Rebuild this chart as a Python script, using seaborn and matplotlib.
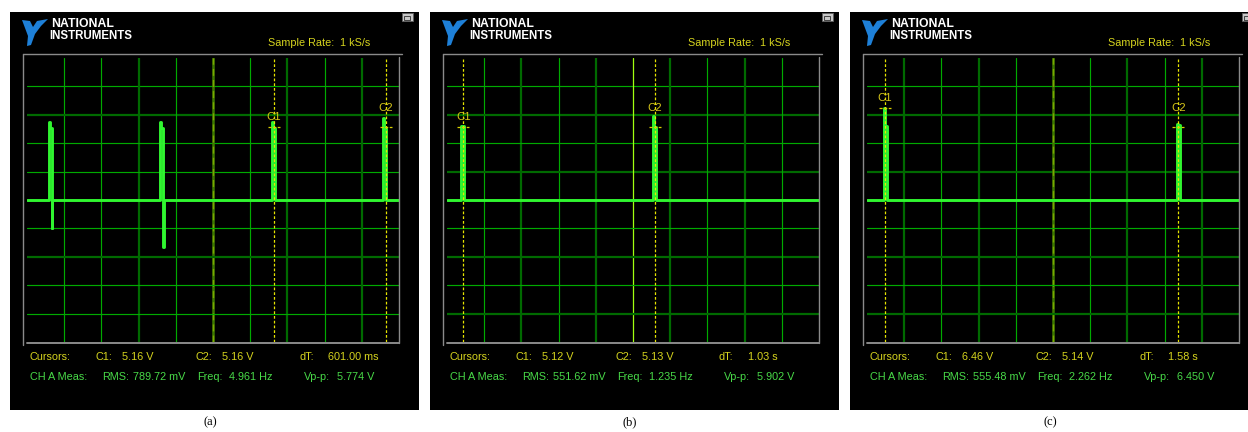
import pandas as pd
import matplotlib
matplotlib.use("Agg")
import matplotlib.pyplot as plt
from matplotlib.patches import Rectangle, Polygon
from matplotlib.lines import Line2D
import seaborn as sns

sns.set_theme(style="white")
plt.rcParams["font.family"] = ["Liberation Sans", "DejaVu Sans"]

W, H = 1248, 432

# ---- data -------------------------------------------------------------
panel_labels = ["(a)", "(b)", "(c)"]
sample_rate = "1 kS/s"

# pulse trains: onset time (s), peak level (V), hold level (V), undershoot (V)
a_onset = [0.118, 0.715, 1.317, 1.914]
a_peak = [5.5, 5.5, 5.5, 5.8]
a_hold = [5.1, 5.1, 5.1, 5.1]
a_under = [-2.0, -3.3, 0.0, 0.0]

b_onset = [0.075, 1.107]
b_peak = [5.2, 5.93]
b_hold = [5.2, 5.13]
b_under = [0.0, 0.0]

c_onset = [0.091, 1.667]
c_peak = [6.46, 5.33]
c_hold = [5.2, 5.3]
c_under = [0.0, 0.0]

# cursor positions (s) and levels (V)
a_cursor_t = [1.328, 1.929]
a_cursor_v = [5.16, 5.16]
b_cursor_t = [0.088, 1.118]
b_cursor_v = [5.12, 5.13]
c_cursor_t = [0.097, 1.674]
c_cursor_v = [6.46, 5.14]

# readouts: C1, C2, dT, RMS, Freq, Vp-p
a_readout = ["5.16 V", "5.16 V", "601.00 ms", "789.72 mV", "4.961 Hz", "5.774 V"]
b_readout = ["5.12 V", "5.13 V", "1.03 s", "551.62 mV", "1.235 Hz", "5.902 V"]
c_readout = ["6.46 V", "5.14 V", "1.58 s", "555.48 mV", "2.262 Hz", "6.450 V"]

# ---- screen settings ----------------------------------------------------
T_SPAN = 2.0        # 10 div x 200 ms
V_SPAN = 10.0       # +/- 5 div x 2 V
PEAK_S = 0.007
PULSE_S = 0.016
UNDER_S = 0.003

TRACE = "#30f530"
GRID = "#00aa00"
GRID_DARK = "#006a00"
YELLOW = "#e6e400"
TXT_Y = "#d6d41e"
TXT_G = "#48da48"
FRAME = "#8a8a8a"

panels = [
    dict(left=10, onset=a_onset, peak=a_peak, hold=a_hold, under=a_under,
         ct=a_cursor_t, cv=a_cursor_v, read=a_readout,
         dark_v=[3, 7, 9], dark_h=[2, 7], center="dash"),
    dict(left=430, onset=b_onset, peak=b_peak, hold=b_hold, under=b_under,
         ct=b_cursor_t, cv=b_cursor_v, read=b_readout,
         dark_v=[2, 4, 6, 8], dark_h=[2, 4, 7, 9], center="bright"),
    dict(left=850, onset=c_onset, peak=c_peak, hold=c_hold, under=c_under,
         ct=c_cursor_t, cv=c_cursor_v, read=c_readout,
         dark_v=[1, 3, 7, 9], dark_h=[2, 4, 7, 9], center="dash"),
]


def fx(x):
    return x / W


def fy(y):
    return 1 - y / H


def waveform(onset, peak, hold, under):
    t, v = [0.0], [0.0]
    for t0, p, h, u in zip(onset, peak, hold, under):
        t1, t2 = t0 + PEAK_S, t0 + PULSE_S
        t3 = t2 + UNDER_S
        t += [t0, t0, t1, t1, t2, t2, t3, t3]
        v += [0.0, p, p, h, h, u, u, 0.0]
    t.append(T_SPAN)
    v.append(0.0)
    return pd.DataFrame({"t": t, "v": v})


fig = plt.figure(figsize=(W / 100, H / 100), dpi=100, facecolor="white")


def ftext(x, y, s, color, size=7.8, **kw):
    fig.text(fx(x), fy(y), s, color=color, fontsize=size, va="center",
             ha="left", **kw)


def fline(xs, ys, color, lw=1.0):
    fig.add_artist(Line2D([fx(x) for x in xs], [fy(y) for y in ys],
                          color=color, lw=lw, transform=fig.transFigure))


for i, p in enumerate(panels):
    L = p["left"]
    # black instrument window
    fig.add_artist(Rectangle((fx(L), fy(410)), fx(409), 398 / H,
                             facecolor="black", edgecolor="none",
                             transform=fig.transFigure, zorder=0))

    # logo
    eagle = [(12, 20), (20, 21), (23, 27), (27, 21), (38, 19), (31, 26),
             (25, 34), (21, 45), (17, 46), (18, 36), (15, 28)]
    fig.add_artist(Polygon([(fx(L + x), fy(y)) for x, y in eagle],
                           closed=True, facecolor="#1e80d8", edgecolor="none",
                           transform=fig.transFigure))
    ftext(L + 41, 24, "NATIONAL", "white", size=8.8, fontweight="bold")
    ftext(L + 39, 36, "INSTRUMENTS", "white", size=8.3, fontweight="bold")

    # window restore button
    fig.add_artist(Rectangle((fx(L + 392), fy(21)), fx(11), 8 / H,
                             facecolor="#c8c8c8", edgecolor="#606060", lw=0.6,
                             transform=fig.transFigure))
    fig.add_artist(Rectangle((fx(L + 394), fy(20)), fx(6), 4 / H,
                             facecolor="none", edgecolor="#303030", lw=0.6,
                             transform=fig.transFigure))

    ftext(L + 258, 43, "Sample Rate:", TXT_Y)
    ftext(L + 330, 43, sample_rate, TXT_Y)

    # sunken frame around the graticule
    fline([L + 13, L + 392], [54, 54], FRAME, 1.0)
    fline([L + 13, L + 13], [54, 345], FRAME, 1.0)
    fline([L + 17, L + 389], [342.5, 342.5], FRAME, 1.4)
    fline([L + 389, L + 389], [57, 342.5], FRAME, 1.0)

    ax = fig.add_axes([fx(L + 17), fy(342), fx(372), 284 / H])
    ax.set_facecolor("black")
    ax.set_xlim(0, T_SPAN)
    ax.set_ylim(-V_SPAN, V_SPAN)
    for s in ax.spines.values():
        s.set_visible(False)
    ax.set_xticks([])
    ax.set_yticks([])

    # graticule
    for k in range(1, 10):
        xv = k * T_SPAN / 10
        if k == 5:
            if p["center"] == "dash":
                ax.axvline(xv, color="#3f7a00", lw=1.8, zorder=1)
                ax.axvline(xv, color="#7aa800", lw=1.0, ls=(0, (5, 3)), zorder=1)
            else:
                ax.axvline(xv, color="#a0ff10", lw=0.9, zorder=1)
        elif k in p["dark_v"]:
            ax.axvline(xv, color=GRID_DARK, lw=1.6, zorder=1)
        else:
            ax.axvline(xv, color=GRID, lw=0.85, zorder=1)
        yv = V_SPAN - k * 2 * V_SPAN / 10
        if k in p["dark_h"]:
            ax.axhline(yv, color=GRID_DARK, lw=1.6, zorder=1)
        else:
            ax.axhline(yv, color=GRID, lw=0.85, zorder=1)

    # trace
    df = waveform(p["onset"], p["peak"], p["hold"], p["under"])
    sns.lineplot(data=df, x="t", y="v", ax=ax, sort=False, estimator=None,
                 color=TRACE, linewidth=2.1, zorder=3)
    ax.set_xlabel("")
    ax.set_ylabel("")

    # cursors
    for n, (ct, cv) in enumerate(zip(p["ct"], p["cv"])):
        ax.axvline(ct, color=YELLOW, lw=0.9, ls=(0, (2.2, 1.6)), zorder=4)
        ax.plot([ct - 0.032, ct + 0.032], [cv, cv], color="#d8d000", lw=0.9,
                ls=(0, (2.5, 1.2)), zorder=4)
        off = 0.70 if n == 0 else 1.34
        ax.text(ct, cv + off, f"C{n + 1}", color="#d8c81a", fontsize=8.2,
                ha="center", va="center", zorder=5)

    # readouts
    r = p["read"]
    ftext(L + 20, 357, "Cursors:", TXT_Y)
    ftext(L + 86, 357, "C1:", TXT_Y)
    ftext(L + 112, 357, r[0], TXT_Y)
    ftext(L + 186, 357, "C2:", TXT_Y)
    ftext(L + 212, 357, r[1], TXT_Y)
    ftext(L + 289, 357, "dT:", TXT_Y)
    ftext(L + 318, 357, r[2], TXT_Y)
    ftext(L + 20, 377, "CH A Meas:", TXT_G)
    ftext(L + 92, 377, "RMS:", TXT_G)
    ftext(L + 123, 377, r[3], TXT_G)
    ftext(L + 187, 377, "Freq:", TXT_G)
    ftext(L + 219, 377, r[4], TXT_G)
    ftext(L + 294, 377, "Vp-p:", TXT_G)
    ftext(L + 327, 377, r[5], TXT_G)

    fig.text(fx(L + 200), fy(422), panel_labels[i], color="black", fontsize=9,
             ha="center", va="center", family=["Liberation Serif", "DejaVu Serif"])

fig.savefig("out.png", dpi=100, facecolor="white")
